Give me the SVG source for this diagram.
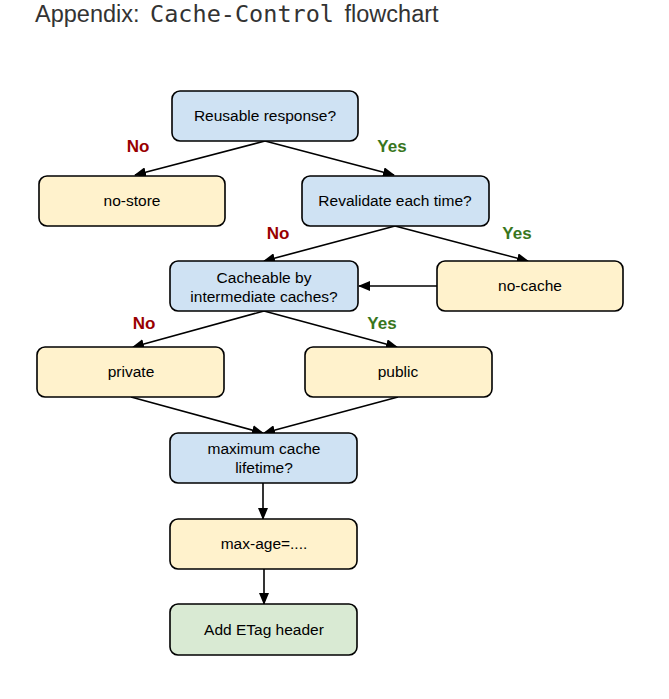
<svg xmlns="http://www.w3.org/2000/svg" width="669" height="699" viewBox="0 0 669 699">
<style>
.box{stroke:#000;stroke-width:1.6}
.q{fill:#cfe2f3}
.a{fill:#fff2cc}
.g{fill:#d9ead3}
.t{font-family:"Liberation Sans",Arial,sans-serif;font-size:15.5px;fill:#000;text-anchor:middle}
.no{font-family:"Liberation Sans",Arial,sans-serif;font-size:17px;font-weight:bold;fill:#990000;text-anchor:middle}
.yes{font-family:"Liberation Sans",Arial,sans-serif;font-size:17px;font-weight:bold;fill:#38761d;text-anchor:middle}
.c{stroke:#000;stroke-width:1.6;fill:none;marker-end:url(#ah)}
</style>
<defs>
<marker id="ah" markerUnits="userSpaceOnUse" markerWidth="12" markerHeight="10" refX="11" refY="5" orient="auto">
<path d="M0,0 L12,5 L0,10 Z" fill="#000"/>
</marker>
</defs>
<rect width="669" height="699" fill="#fff"/>
<text x="35" y="22" font-family="'Liberation Sans',Arial,sans-serif" font-size="23.5" fill="#333" word-spacing="4">Appendix: <tspan font-family="'DejaVu Sans Mono',monospace" font-size="23.5">Cache-Control</tspan> flowchart</text>

<g id="connectors">
<line class="c" x1="265" y1="141" x2="135" y2="175"/>
<line class="c" x1="265" y1="141" x2="394" y2="175"/>
<line class="c" x1="395" y1="226" x2="264" y2="261"/>
<line class="c" x1="395" y1="226" x2="528" y2="261"/>
<line class="c" x1="437" y1="286" x2="359" y2="286"/>
<line class="c" x1="264" y1="311" x2="133" y2="347"/>
<line class="c" x1="264" y1="311" x2="397" y2="347"/>
<line class="c" x1="131" y1="397" x2="263" y2="433"/>
<line class="c" x1="398" y1="397" x2="264" y2="433"/>
<line class="c" x1="263" y1="483" x2="263" y2="519"/>
<line class="c" x1="264" y1="569" x2="264" y2="604"/>
<text class="no" x="138" y="152">No</text>
<text class="yes" x="392" y="152">Yes</text>
<text class="no" x="278" y="239">No</text>
<text class="yes" x="517" y="239">Yes</text>
<text class="no" x="144" y="329">No</text>
<text class="yes" x="382" y="329">Yes</text>
</g>

<g id="reusable"><rect class="box q" x="172" y="91" width="186" height="50" rx="8"/><text class="t" x="265" y="121">Reusable response?</text></g>
<g id="no-store"><rect class="box a" x="39" y="176" width="186" height="50" rx="8"/><text class="t" x="132" y="206">no-store</text></g>
<g id="revalidate"><rect class="box q" x="302" y="176" width="187" height="50" rx="8"/><text class="t" x="395" y="206">Revalidate each time?</text></g>
<g id="cacheable"><rect class="box q" x="170" y="261" width="188" height="50" rx="8"/><text class="t" x="264" y="283">Cacheable by</text><text class="t" x="264" y="302">intermediate caches?</text></g>
<g id="no-cache"><rect class="box a" x="437" y="261" width="186" height="50" rx="8"/><text class="t" x="530" y="291">no-cache</text></g>
<g id="private"><rect class="box a" x="37" y="347" width="187" height="50" rx="8"/><text class="t" x="131" y="377">private</text></g>
<g id="public"><rect class="box a" x="305" y="347" width="187" height="50" rx="8"/><text class="t" x="398" y="377">public</text></g>
<g id="max-lifetime"><rect class="box q" x="170" y="433" width="187" height="50" rx="8"/><text class="t" x="264" y="454">maximum cache</text><text class="t" x="264" y="473">lifetime?</text></g>
<g id="max-age"><rect class="box a" x="170" y="519" width="187" height="50" rx="8"/><text class="t" x="264" y="549">max-age=....</text></g>
<g id="etag"><rect class="box g" x="170" y="604" width="187" height="51" rx="8"/><text class="t" x="264" y="635">Add ETag header</text></g>
</svg>
